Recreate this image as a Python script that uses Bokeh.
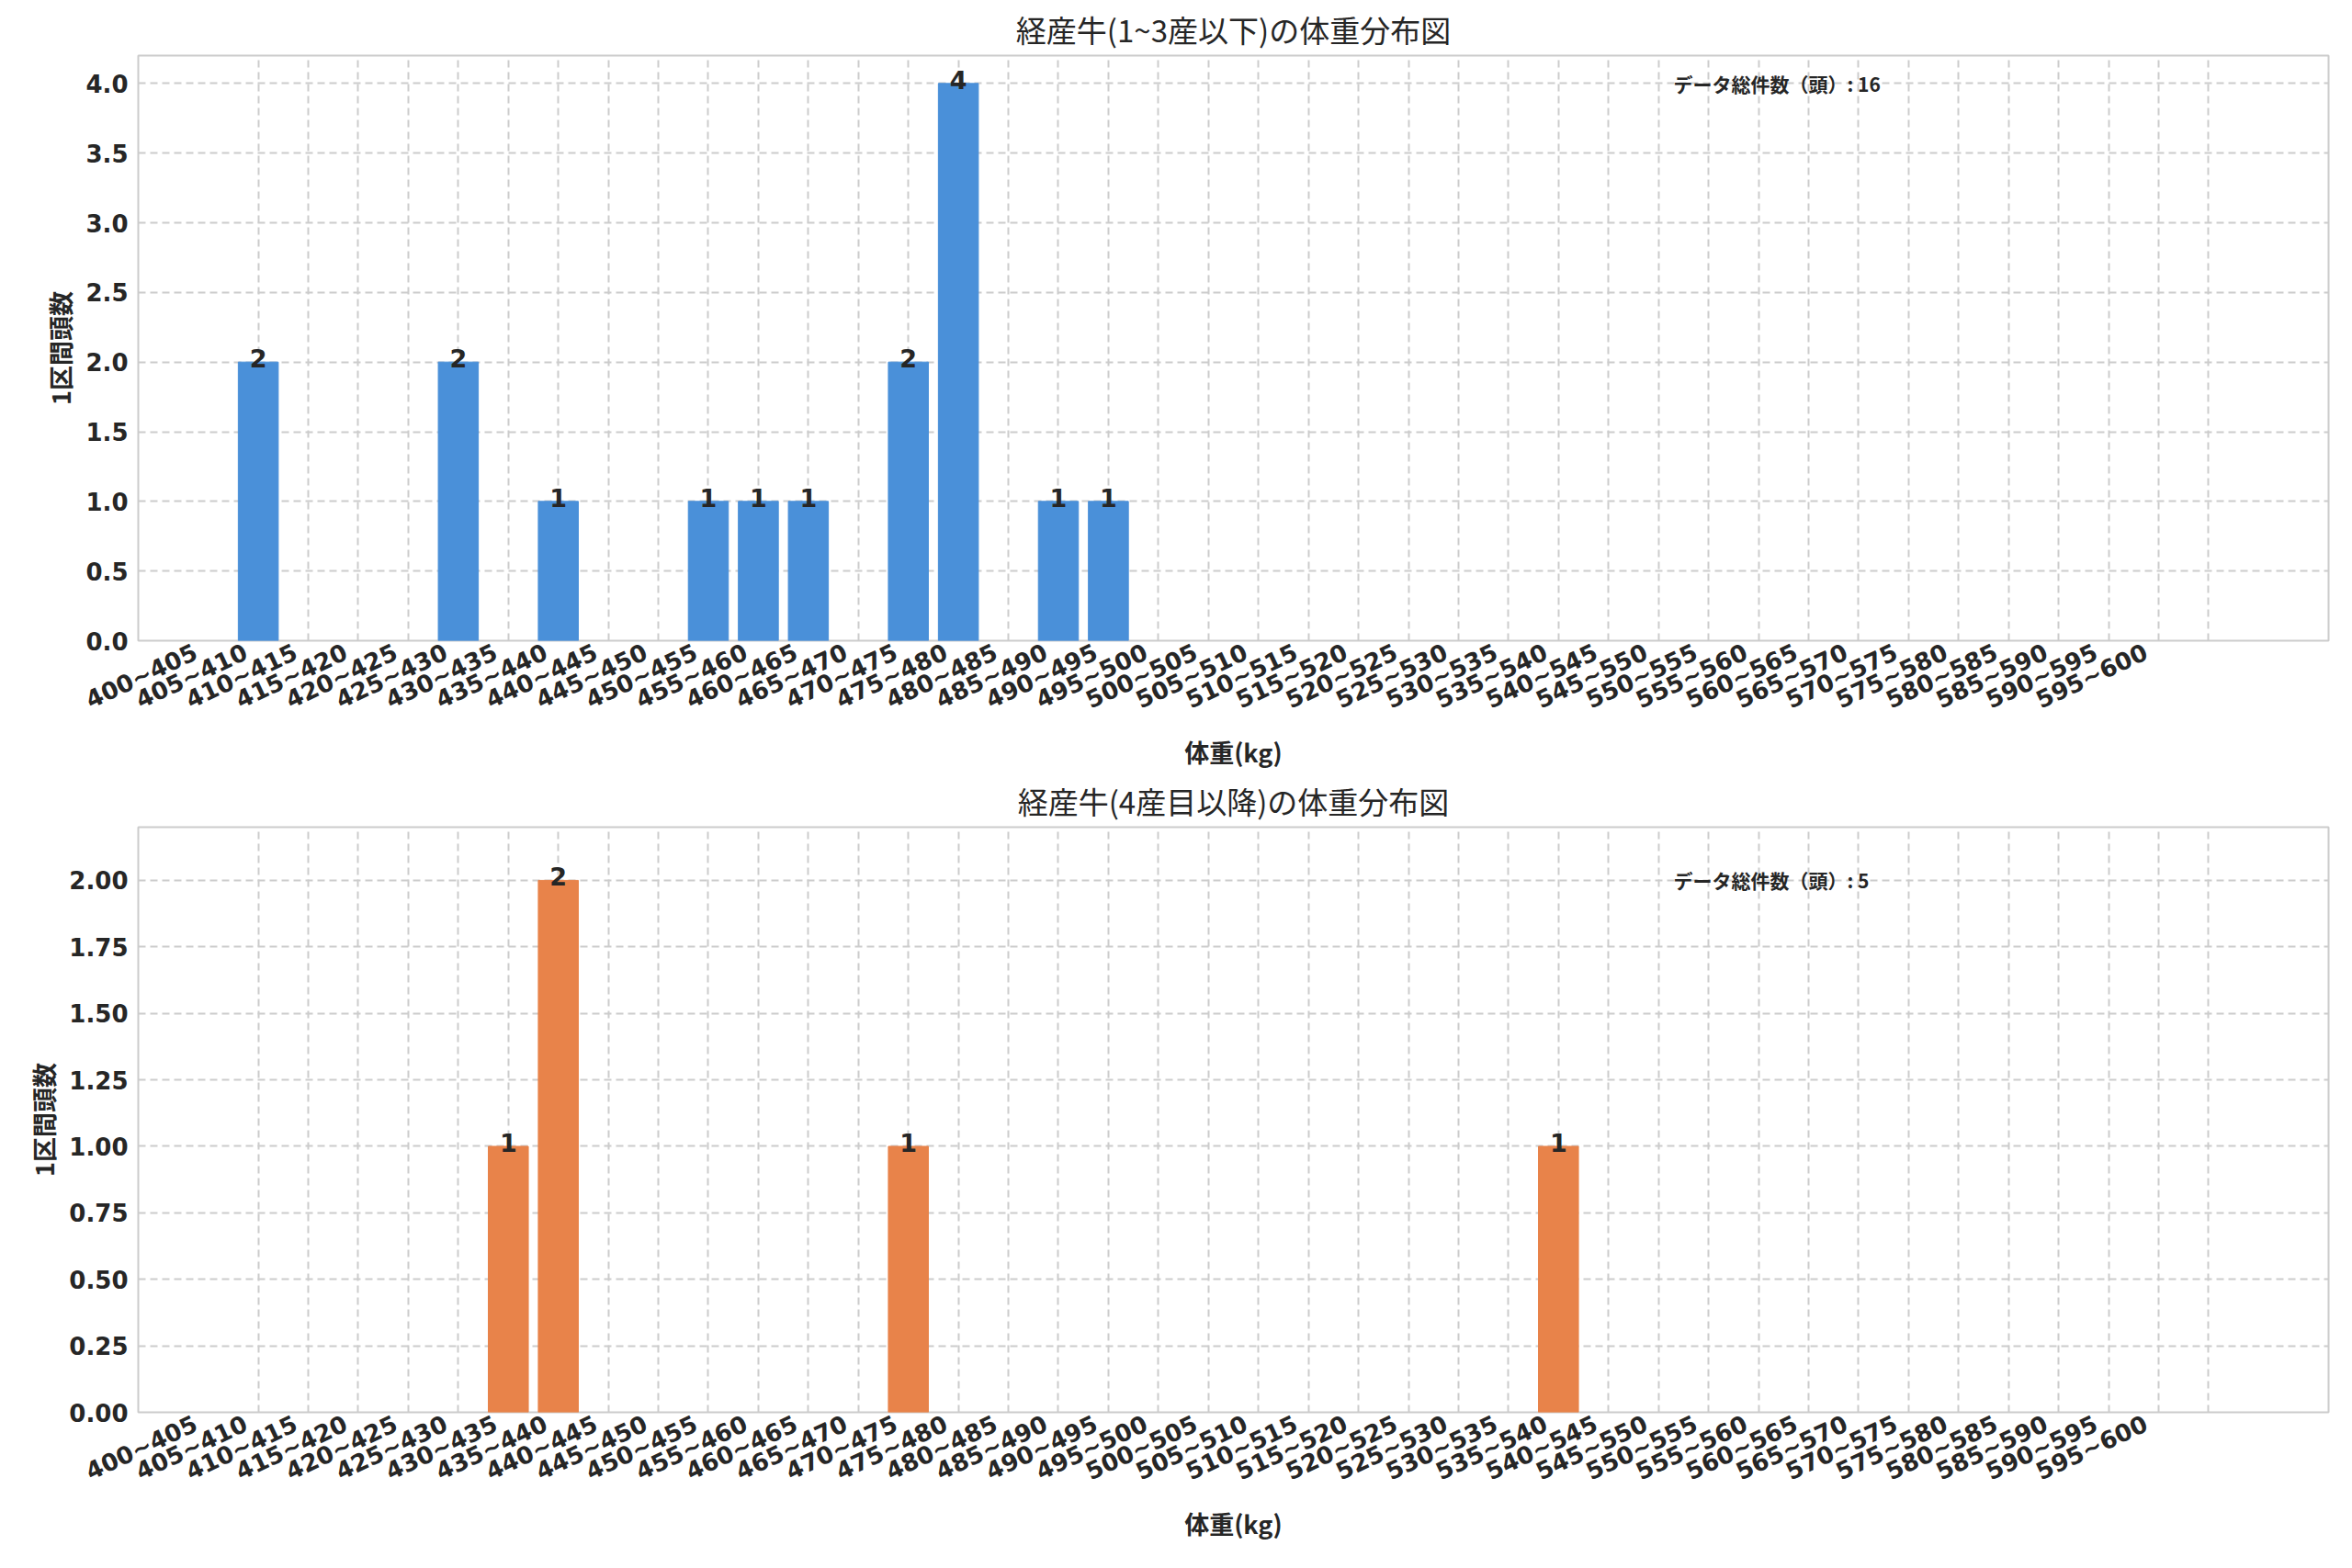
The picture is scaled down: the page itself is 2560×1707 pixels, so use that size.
from bokeh.plotting import figure
from bokeh.layouts import column
from bokeh.models import ColumnDataSource, Range1d, FixedTicker, Label, LinearAxis
from bokeh.core.properties import value
from bokeh.embed import file_html
from bokeh.resources import INLINE
import math

bins = [f"{400+5*i}~{405+5*i}" for i in range(40)]
top_counts = {"400~405": 2, "420~425": 2, "430~435": 1, "445~450": 1, "450~455": 1,
              "455~460": 1, "465~470": 2, "470~475": 4, "480~485": 1, "485~490": 1}
bot_counts = {"425~430": 1, "430~435": 2, "465~470": 1, "530~535": 1}
titles = ["経産牛(1~3産以下)の体重分布図", "経産牛(4産目以降)の体重分布図"]
ylabel = "1区間頭数"
xlabel = "体重(kg)"
note = "データ総件数（頭）"
colors = ["#4a90d9", "#e8834a"]
yticks = [[0, 0.5, 1, 1.5, 2, 2.5, 3, 3.5, 4], [0, 0.25, 0.5, 0.75, 1, 1.25, 1.5, 1.75, 2]]
ymax = [4.2, 2.2]
fmt = ["{:.1f}", "{:.2f}"]
JP = "Noto Sans CJK JP"
DV = "DejaVu Sans"
SHIFT = 1.25

def style_axis(ax):
    ax.major_label_text_font = DV
    ax.major_label_text_font_size = "26px"
    ax.major_label_text_font_style = "bold"
    ax.major_label_text_color = "#262626"
    ax.axis_label_text_font = JP
    ax.axis_label_text_font_size = "27px"
    ax.axis_label_text_font_style = "bold"
    ax.axis_label_text_color = "#262626"
    ax.axis_line_color = None
    ax.major_tick_line_color = None
    ax.minor_tick_line_color = None

def make(i, counts):
    p = figure(width=2544, height=840, output_backend="svg", toolbar_location=None,
               x_range=Range1d(-2.4, 41.4), y_range=Range1d(0, ymax[i]),
               min_border_left=150, min_border_right=10)
    xs = [bins.index(k) for k in counts]
    vals = list(counts.values())
    src = ColumnDataSource(dict(x=xs, top=vals, lab=[str(v) for v in vals]))
    p.vbar(x="x", top="top", width=0.8, source=src, color=colors[i])
    p.text(x="x", y="top", text="lab", source=src, text_align="center", text_baseline="bottom",
           text_font_size="27px", text_font_style="bold", text_color="#262626",
           text_font=value(DV), y_offset=6)
    p.title.text = titles[i]
    p.title.align = "center"
    p.title.text_font = JP
    p.title.text_font_size = "33px"
    p.title.text_font_style = "normal"
    p.title.text_color = "#262626"
    p.xaxis.visible = False
    p.xgrid.ticker = FixedTicker(ticks=list(range(40)))
    lt = [j - SHIFT for j in range(40)]
    ax = LinearAxis(ticker=FixedTicker(ticks=lt),
                    major_label_overrides={t: bins[j] for j, t in enumerate(lt)},
                    major_label_orientation=math.radians(25), axis_label=xlabel)
    style_axis(ax)
    p.add_layout(ax, "below")
    p.yaxis.ticker = FixedTicker(ticks=yticks[i])
    p.yaxis.major_label_overrides = {t: fmt[i].format(t) for t in yticks[i]}
    style_axis(p.yaxis[0])
    p.yaxis.axis_label = ylabel
    p.grid.grid_line_dash = "8 5"
    p.grid.grid_line_color = "#cccccc"
    p.grid.grid_line_width = 2
    p.outline_line_color = "#cccccc"
    p.outline_line_width = 2
    total = sum(vals)
    p.add_layout(Label(x=28.3, y=yticks[i][-1], text=f"{note}: {total}", text_font=JP,
                       text_font_size="21px", text_font_style="bold", text_color="#262626",
                       text_baseline="middle"))
    return p

p = column(make(0, top_counts), make(1, bot_counts))
open("out.html", "w").write(file_html(p, INLINE))
